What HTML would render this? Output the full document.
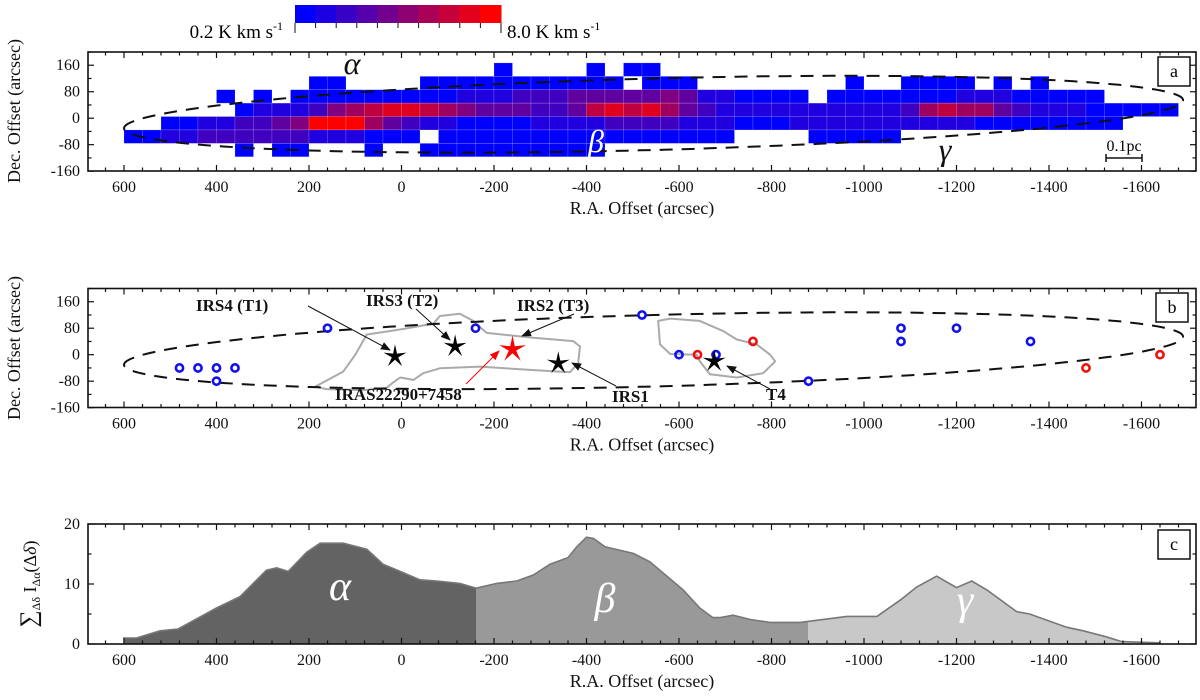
<!DOCTYPE html>
<html><head><meta charset="utf-8">
<style>
html,body{margin:0;padding:0;background:#fff;}
svg{display:block;font-family:"Liberation Serif",serif;}
.tl{font-size:16px;fill:#111;}
.at{font-size:18px;fill:#111;}
.lb{font-size:17px;font-weight:bold;fill:#111;}
</style></head>
<body>
<svg id="fig" width="1200" height="700" viewBox="0 0 1200 700" xmlns="http://www.w3.org/2000/svg">
<g id="layer"></g>
</svg>
<script>
// ---- data ----
const heatCols = [
".....1.",".....1.","....12.","....12.","....23.","..1.23.","...1331","..1233.","...2431","..12531",
".11392.",".11592.","..1692.","..17611","..1841.","..1831.",".1172.1",".116211",".125111",".124111",
"1124111",".134111",".133211",".133211",".144211","1147211",".14831.","1.4731.","114831.",".15631.",
".14421.","..2321.","..2221.","..121..","..121..","..121..","..122..","...221.","..1221.",".11221.",
"..1221.","..1221.",".1132..",".1162..",".1172..",".1262..","..261..",".1241..","..131..",".1121..",
"..121..","..121..","..111..","...11..","...1...","...1...","...1..."];
const colStart = 600, colWidth = 40, rowTop = 167, rowHeight = 40.5;
const profileRA = [600,573,522,483,400,349,292,270,245,205,176,126,75,40,3,-40,-76,-126,-161,-206,-249,-285,-321,-360,-379,-400,-415,-440,-501,-537,-609,-645,-673,-688,-717,-753,-796,-862,-963,-1028,-1078,-1114,-1157,-1200,-1233,-1266,-1330,-1358,-1438,-1474,-1524,-1557,-1640];
const profileVal = [1,1,2.2,2.5,6,7.9,12.3,12.7,12.1,15.3,16.8,16.8,15.8,13.3,12.1,10.7,10.5,10.1,9.3,10.1,10.5,11.5,13.3,14.4,16.2,17.8,17.6,16.2,15.1,13.7,9,6,4.4,4.4,4.8,4.1,3.6,3.6,4.6,4.6,7.3,9.5,11.3,9.4,10.5,9,5.4,5,2.8,2.2,1.2,0.4,0.2];
const regionBounds = [600,-161,-879,-1640];
const blueRA = [480,440,400,360,400,160,-160,-520,-600,-680,-880,-1080,-1080,-1200,-1360];
const blueDec = [-40,-40,-40,-40,-80,80,80,120,0,0,-80,80,40,80,40];
const redRA = [-640,-760,-1480,-1640];
const redDec = [0,40,-40,0];
const starNames = ["IRS4","IRS3","IRS2","IRS1","T4"];
const starRA = [14,-116,-240,-339,-676];
const starDec = [-5,25,16,-26,-20];
const contour1RA = [187,126,100,75,3,-69,-83,-126,-155,-184,-285,-371,-386,-382,-364,-278,-170,-83,-47,-26,3,21,32,83,162];
const contour1Dec = [-97,-51,0,61,76,94,117,124,102,66,51,41,25,-25,-53,-46,-36,-41,-56,-76,-69,-87,-100,-107,-104];
const contour2RA = [-555,-581,-645,-696,-725,-768,-797,-808,-782,-725,-667,-645,-638,-581,-559];
const contour2Dec = [102,109,102,71,46,31,0,-20,-56,-69,-59,-20,0,2,31];
const xTicks = [600,400,200,0,-200,-400,-600,-800,-1000,-1200,-1400,-1600];
const decTicks = [160,80,0,-80,-160];
const cTicks = [0,10,20];

// ---- scales ----
const X0=88, X1=1196;
const xS = ra => 401.5 - 0.4625*ra;
const yA = d => 118.2 - 0.331*d;
const yB = d => 354.7 - 0.331*d;
const yC = v => 644 - 6*v;
const NS="http://www.w3.org/2000/svg";
const L=document.getElementById('layer');
function mk(tag,attrs,parent){const e=document.createElementNS(NS,tag);for(const k in attrs)e.setAttribute(k,attrs[k]);(parent||L).appendChild(e);return e;}

function frame(top,bot,name,yticks,ys,minorStep,yMinor){
  const g=mk('g',{});
  
  
  for(let v=640; v>=-1700; v-=40){
    const x=xS(v); const major=(v%200===0);
    const len=major?6:3.5;
    mk('line',{x1:x,y1:bot,x2:x,y2:bot-len,stroke:'#111','stroke-width':1.2},g);
    mk('line',{x1:x,y1:top,x2:x,y2:top+len,stroke:'#111','stroke-width':1.2},g);
  }
  xTicks.forEach(v=>{const t=mk('text',{x:xS(v),y:bot+21,'text-anchor':'middle',class:'tl'},g);t.textContent=v;
    
    });
  yMinor.forEach(v=>{const y=ys(v);const major=yticks.includes(v);const len=major?6:3.5;
    mk('line',{x1:X0,y1:y,x2:X0+len,y2:y,stroke:'#111','stroke-width':1.2},g);
    mk('line',{x1:X1,y1:y,x2:X1-len,y2:y,stroke:'#111','stroke-width':1.2},g);});
  yticks.forEach(v=>{const t=mk('text',{x:X0-8,y:ys(v)+5,'text-anchor':'end',class:'tl'},g);t.textContent=v;
    
    });
  mk('rect',{x:X0,y:top,width:X1-X0,height:bot-top,fill:'none',stroke:'#111','stroke-width':1.6},g);
  const xt=mk('text',{x:(X0+X1)/2,y:bot+43,'text-anchor':'middle',class:'at'},g);xt.textContent='R.A. Offset (arcsec)';
  
  
}
function ellipse(ys,name){
  let d='';
  for(let i=0;i<=240;i++){const t=i/240*2*Math.PI;const ra=-545+1145*Math.cos(t);
    const dec=12-0.037*(ra+545)+108*Math.sin(t);d+=(i?'L':'M')+xS(ra).toFixed(1)+' '+ys(dec).toFixed(1);}
  const p=mk('path',{d:d+'Z',fill:'none',stroke:'#111','stroke-width':2,'stroke-dasharray':'13 9'});
  
  
}
function labelBox(x,y,txt,name){
  const g=mk('g',{});
  
  
  mk('rect',{x:x,y:y,width:32,height:29,fill:'#fff',stroke:'#111','stroke-width':1.5},g);
  const t=mk('text',{x:x+16,y:y+20,'text-anchor':'middle','font-size':'18'},g);t.textContent=txt;
}
const decMinor=[]; for(let v=200;v>=-160;v-=40) decMinor.push(v);

// ---- panel a heatmap ----
heatCols.forEach((col,k)=>{
  for(let r=0;r<col.length;r++){
    const c=col[r]; if(c==='.') continue;
    const lvl=+c; const t=(lvl-1)/8;
    const ra0=colStart-colWidth*k, ra1=ra0-colWidth;
    const d0=rowTop-rowHeight*r, d1=d0-rowHeight;
    const rc=mk('rect',{x:xS(ra0),y:yA(d0),width:xS(ra1)-xS(ra0),height:yA(d1)-yA(d0),
      fill:`rgb(${Math.round(255*t)},0,${Math.round(255*(1-t))})`,stroke:'rgba(255,255,255,0.25)','stroke-width':0.6});
    
    
  }
});
ellipse(yA,'ellipse-outline-a');
frame(52,171,'panel-a',decTicks,yA,40,decMinor);
labelBox(1158,57,'a','panel-a-label');
(function(){
  const g=mk('g',{});
  
  
  const x0=295,x1=501,w=(x1-x0)/10;
  for(let i=0;i<10;i++){const t=i/9;
    mk('rect',{x:x0+i*w,y:5,width:w+0.5,height:18,fill:`rgb(${Math.round(255*t)},0,${Math.round(255*(1-t))})`},g);}
  for(let i=0;i<=10;i++){mk('line',{x1:x0+i*w,y1:23,x2:x0+i*w,y2:(i%10===0)?33:28,stroke:'#111','stroke-width':1},g);}
  const t1=mk('text',{x:283,y:38,'text-anchor':'end','font-size':'19'},g);
  t1.innerHTML='0.2 K km s<tspan dy="-8" font-size="12">-1</tspan>';
  const t2=mk('text',{x:507,y:38,'text-anchor':'start','font-size':'19'},g);
  t2.innerHTML='8.0 K km s<tspan dy="-8" font-size="12">-1</tspan>';
})();
[['α',352,74,'#111'],['β',596,152,'#fff'],['γ',945,160,'#111']].forEach(a=>{
  const t=mk('text',{x:a[1],y:a[2],'text-anchor':'middle','font-size':'32','font-style':'italic',fill:a[3]});t.textContent=a[0];
  
  
});
(function(){const g=mk('g',{});
  
  
  mk('line',{x1:1106,y1:158,x2:1142,y2:158,stroke:'#111','stroke-width':1.5},g);
  mk('line',{x1:1106,y1:154,x2:1106,y2:162,stroke:'#111','stroke-width':1.5},g);
  mk('line',{x1:1142,y1:154,x2:1142,y2:162,stroke:'#111','stroke-width':1.5},g);
  const t=mk('text',{x:1124,y:151,'text-anchor':'middle','font-size':'16'},g);t.textContent='0.1pc';})();
const ya=mk('text',{x:0,y:0,'text-anchor':'middle',class:'at',transform:'translate(20,111) rotate(-90)'});ya.textContent='Dec. Offset (arcsec)';



// ---- panel b ----
function poly(ras,decs,name){
  const d=ras.map((r,i)=>(i?'L':'M')+xS(r).toFixed(1)+' '+yB(decs[i]).toFixed(1)).join('')+'Z';
  const p=mk('path',{d:d,fill:'none',stroke:'#aaa','stroke-width':2,'stroke-linejoin':'round'});
  
  
}
poly(contour1RA,contour1Dec,'contour-main');
poly(contour2RA,contour2Dec,'contour-t4');
ellipse(yB,'ellipse-outline-b');
function circ(ra,dec,col,name){
  const c=mk('circle',{cx:xS(ra),cy:yB(dec),r:3.6,fill:'none',stroke:col,'stroke-width':2.6});
  
  
}
blueRA.forEach((r,i)=>circ(r,blueDec[i],'#1010ee','blue-source'));
redRA.forEach((r,i)=>circ(r,redDec[i],'#ee1010','red-source'));
function starPath(cx,cy,R){let d='';for(let i=0;i<10;i++){const a=-Math.PI/2+i*Math.PI/5;const rr=i%2?R*0.28:R;
  d+=(i?'L':'M')+(cx+rr*Math.cos(a)).toFixed(1)+' '+(cy+rr*Math.sin(a)).toFixed(1);}return d+'Z';}
starNames.forEach((n,i)=>{
  const red=n==='IRS2';
  const p=mk('path',{d:starPath(xS(starRA[i]),yB(starDec[i]),red?14:12),fill:red?'#f00':'#000'});
  
  
});
mk('defs',{}).innerHTML='<marker id="ah" markerWidth="10" markerHeight="8" refX="9" refY="4" orient="auto"><path d="M0,0 L10,4 L0,8 Z" fill="#111"/></marker><marker id="ahr" markerWidth="10" markerHeight="8" refX="9" refY="4" orient="auto"><path d="M0,0 L10,4 L0,8 Z" fill="#f00"/></marker>';
[['IRS4 (T1)',196,311,308,306,390,350,'#111'],['IRS3 (T2)',366,306,416,309,450,340,'#111'],['IRS2 (T3)',517,311,574,314,522,336,'#111'],
 ['IRAS22290+7458',335,400,466,384,499,351,'#f00'],['IRS1',612,402,616,386,572,363,'#111'],['T4',766,400,770,389,727,366,'#111']].forEach(a=>{
  const ln=mk('line',{x1:a[3],y1:a[4],x2:a[5],y2:a[6],stroke:a[7],'stroke-width':1,'marker-end':a[7]==='#f00'?'url(#ahr)':'url(#ah)'});
  
  
  const t=mk('text',{x:a[1],y:a[2],class:'lb'});t.textContent=a[0];
  
  
});
frame(288.5,407.5,'panel-b',decTicks,yB,40,decMinor);
labelBox(1156,293,'b','panel-b-label');
const yb=mk('text',{x:0,y:0,'text-anchor':'middle',class:'at',transform:'translate(20,348) rotate(-90)'});yb.textContent='Dec. Offset (arcsec)';



// ---- panel c ----
(function(){
  const pts=profileRA.map((r,i)=>[xS(r),yC(profileVal[i])]);
  const top=pts.map((p,i)=>(i?'L':'M')+p[0].toFixed(1)+' '+p[1].toFixed(1)).join('');
  const area=top+`L${pts[pts.length-1][0]} ${yC(0)}L${pts[0][0]} ${yC(0)}Z`;
  const fills=['#636363','#999999','#c8c8c8'];
  const names=['alpha','beta','gamma'];
  const defs=mk('defs',{});
  for(let i=0;i<3;i++){
    const cp=mk('clipPath',{id:'cp'+i},defs);
    mk('rect',{x:xS(regionBounds[i]),y:500,width:xS(regionBounds[i+1])-xS(regionBounds[i]),height:160},cp);
    const p=mk('path',{d:area,fill:fills[i],'clip-path':`url(#cp${i})`});
    
    
  }
  const o=mk('path',{d:`M${pts[0][0]} ${yC(0)}`+top.replace(/^M/,'L'),fill:'none',stroke:'#777','stroke-width':1.6});
  
  
})();
frame(524,644,'panel-c',cTicks,yC,5,[0,5,10,15,20]);
labelBox(1158,530,'c','panel-c-label');
[['α',340,600],['β',605,612],['γ',965,614]].forEach(a=>{
  const t=mk('text',{x:a[1],y:a[2],'text-anchor':'middle','font-size':'42','font-style':'italic',fill:'#fff'});t.textContent=a[0];
  
  
});
const yc=mk('text',{x:0,y:0,'text-anchor':'middle',class:'at',transform:'translate(36,584) rotate(-90)'});
yc.innerHTML='<tspan font-size="24">∑</tspan><tspan font-size="12" dy="4">Δδ</tspan><tspan dy="-4"> I</tspan><tspan font-size="12" dy="4">Δα</tspan><tspan dy="-4">(Δ</tspan><tspan font-style="italic">δ</tspan>)';


</script>
</body></html>
